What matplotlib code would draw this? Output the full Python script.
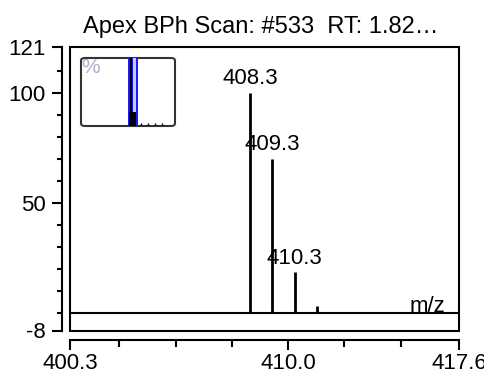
import matplotlib
matplotlib.use("Agg")
import matplotlib.pyplot as plt
from matplotlib.patches import Rectangle, FancyBboxPatch
from matplotlib.ticker import FixedLocator, FormatStrFormatter

plt.rcParams['font.family'] = ['Liberation Sans', 'DejaVu Sans']
plt.rcParams['axes.unicode_minus'] = False

# spectrum data
mz = [408.3, 409.3, 410.3, 411.3]
intensity = [100, 70, 18.6, 3]
peak_labels = ["408.3", "409.3", "410.3", None]

x_major = [400.3, 410.0, 417.6]
x_minor = [402.5, 405.0, 407.5, 412.5, 415.0]
y_major = [121, 100, 50, -8]
y_minor = [110, 90, 80, 70, 60, 40, 30, 20, 10, 0]

title = "Apex BPh Scan: #533  RT: 1.82\u2026"

fig = plt.figure(figsize=(4.84, 3.76), dpi=100)
ax = fig.add_axes([70/484, 1-330.5/376, 389/484, 284/376])

lw = 1.5
ax.vlines(mz, 0, intensity, color='black', lw=2)
ax.axhline(0, color='black', lw=lw)
for x, y, lab in zip(mz, intensity, peak_labels):
    if lab:
        ax.annotate(lab, (x, y), xytext=(0, 6), textcoords='offset points',
                    ha='center', va='baseline', fontsize=16)

ax.set_xlim(400.3, 417.6)
ax.set_ylim(-8, 121)

for s in ['top', 'right']:
    ax.spines[s].set_visible(False)
ax.spines['left'].set_position(('outward', 5.8))
ax.spines['bottom'].set_position(('outward', 6.5))
for s in ['left', 'bottom']:
    ax.spines[s].set_linewidth(lw)
ax.add_patch(Rectangle((0, 0), 1, 1, transform=ax.transAxes, fill=False,
                       lw=lw, edgecolor='black', clip_on=False, zorder=3))

ax.xaxis.set_major_locator(FixedLocator(x_major))
ax.xaxis.set_minor_locator(FixedLocator(x_minor))
ax.xaxis.set_major_formatter(FormatStrFormatter('%.1f'))
ax.yaxis.set_major_locator(FixedLocator(y_major))
ax.yaxis.set_minor_locator(FixedLocator(y_minor))
ax.tick_params(which='both', direction='out', width=lw, labelsize=16)
ax.tick_params(axis='both', which='major', length=7.2)
ax.tick_params(axis='x', which='minor', length=5)
ax.tick_params(axis='y', which='minor', length=3.6)
ax.tick_params(axis='x', pad=2.5)
ax.tick_params(axis='y', pad=4.5)

# axis name sits on the zero line at the right
ax.text(0.966, 0.3, "m/z", transform=ax.get_yaxis_transform(),
        ha='right', va='baseline', fontsize=16)
ax.text(0.49, 1 + 14/284, title, transform=ax.transAxes, ha='center',
        va='baseline', fontsize=17)

# small overview thumbnail in the corner
ins = fig.add_axes([81/484, 1-126/376, 94/484, 68/376])
ins.set_xlim(0, 1)
ins.set_ylim(0, 1)
ins.axis('off')
ins.add_patch(FancyBboxPatch((0, 0), 1, 1, boxstyle="round,pad=0,rounding_size=0.04",
                             fill=False, lw=1.5, edgecolor='#333333',
                             transform=ins.transAxes, clip_on=False))
ins.axvspan(0.50, 0.606, color='#1a1aff', lw=0)
ins.axvspan(0.55, 0.585, color='#c8c8ff', lw=0)
ins.axvline(0.527, color='black', lw=1.5)
ins.add_patch(Rectangle((0.51, 0), 0.075, 0.2, color='black', lw=0))
ins.vlines([0.64, 0.715, 0.79, 0.865], 0, 0.05, color='black', lw=1)
ins.text(0.0, 1.0, "%", color='#a8b0c8', fontsize=15, ha='left', va='top')

fig.savefig("out.png", dpi=100)
